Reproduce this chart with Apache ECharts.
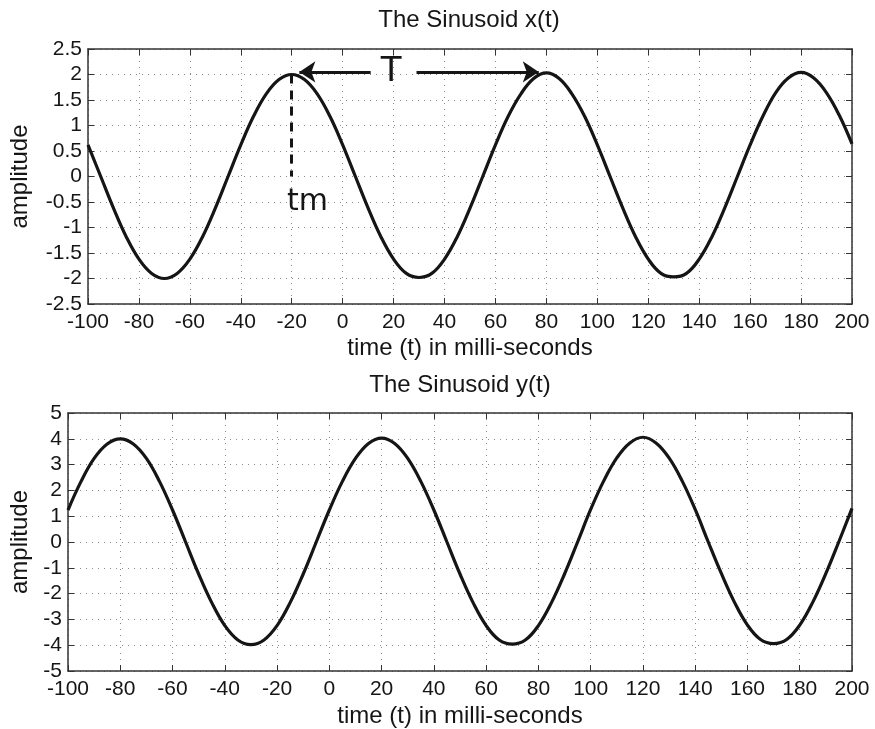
<!DOCTYPE html>
<html>
<head>
<meta charset="UTF-8">
<title>The Sinusoid</title>
<style>
  body { margin: 0; padding: 0; background: #fff; }
  #chart { width: 875px; height: 729px; }
</style>
</head>
<body>
<div id="chart"></div>
<script src="https://cdn.jsdelivr.net/npm/echarts@6/dist/echarts.min.js"></script>
<script>
// time in ms, every 5 ms from -100 to 200
var times = [];
for (var t = -100; t <= 200; t += 5) times.push(t);

// x(t)
var xVals = [
  0.62, 0, -0.62, -1.18, -1.62, -1.9, -2, -1.9, -1.62, -1.18,
  -0.62, 0, 0.62, 1.18, 1.62, 1.9, 2, 1.9, 1.62, 1.18,
  0.62, 0, -0.62, -1.18, -1.62, -1.9, -1.98, -1.9, -1.62, -1.18,
  -0.62, 0, 0.62, 1.18, 1.62, 1.92, 2.03, 1.92, 1.62, 1.18,
  0.62, 0, -0.62, -1.18, -1.62, -1.9, -1.97, -1.9, -1.62, -1.18,
  -0.62, 0, 0.62, 1.18, 1.64, 1.93, 2.04, 1.93, 1.64, 1.2,
  0.64
];

// y(t)
var yVals = [
  1.24, 2.35, 3.24, 3.8, 4, 3.8, 3.24, 2.35, 1.24, 0,
  -1.24, -2.35, -3.24, -3.8, -3.98, -3.8, -3.24, -2.35, -1.24, 0,
  1.24, 2.35, 3.24, 3.82, 4.03, 3.82, 3.24, 2.35, 1.24, 0,
  -1.24, -2.35, -3.24, -3.8, -3.96, -3.8, -3.24, -2.35, -1.24, 0,
  1.26, 2.37, 3.26, 3.84, 4.06, 3.84, 3.26, 2.37, 1.26, 0,
  -1.22, -2.33, -3.22, -3.78, -3.94, -3.78, -3.22, -2.33, -1.22, 0.02,
  1.3
];

// hand drawn marks on the top plot: period arrow and tm marker
var periodLeft = [[-17, 2.05], [11, 2.05]];
var periodRight = [[29, 2.05], [77, 2.05]];
var tmLine = [[-20, 2], [-20, 0]];
var periodLabel = [19, 2.05];
var tmLabel = [-13.8, -0.5];

var font = 'Liberation Sans, Arial, sans-serif';
var ink = '#151515';

function pairs(vals) {
  return times.map(function (t, i) { return [t, vals[i]]; });
}

function mainX(grid, name, gap) {
  return {
    type: 'value', gridIndex: grid, position: 'bottom',
    min: -100, max: 200, interval: 20,
    name: name, nameLocation: 'middle', nameGap: gap,
    nameTextStyle: { fontFamily: font, fontSize: 24, color: ink },
    axisLine: { onZero: false, lineStyle: { color: '#333', width: 1.5 } },
    axisTick: { inside: true, length: 6, lineStyle: { color: '#333' } },
    axisLabel: { fontFamily: font, fontSize: 21, color: ink, margin: 8 },
    splitLine: { show: true, lineStyle: { color: '#8a8a8a', type: [1, 5], width: 1 } }
  };
}
function boxX(grid) {
  return {
    type: 'value', gridIndex: grid, position: 'top',
    min: -100, max: 200, interval: 20,
    axisLine: { onZero: false, lineStyle: { color: '#333', width: 1.5 } },
    axisTick: { inside: true, length: 6, lineStyle: { color: '#333' } },
    axisLabel: { show: false }, splitLine: { show: false }
  };
}
function mainY(grid, min, max, step, gap) {
  return {
    type: 'value', gridIndex: grid, position: 'left',
    min: min, max: max, interval: step,
    name: 'amplitude', nameLocation: 'middle', nameGap: gap,
    nameTextStyle: { fontFamily: font, fontSize: 24, color: ink },
    axisLine: { show: true, onZero: false, lineStyle: { color: '#333', width: 1.5 } },
    axisTick: { show: true, inside: true, length: 6, lineStyle: { color: '#333' } },
    axisLabel: { fontFamily: font, fontSize: 21, color: ink, margin: 6 },
    splitLine: { show: true, lineStyle: { color: '#8a8a8a', type: [1, 5], width: 1 } }
  };
}
function boxY(grid, min, max, step) {
  return {
    type: 'value', gridIndex: grid, position: 'right',
    min: min, max: max, interval: step,
    axisLine: { show: true, onZero: false, lineStyle: { color: '#333', width: 1.5 } },
    axisTick: { show: true, inside: true, length: 6, lineStyle: { color: '#333' } },
    axisLabel: { show: false }, splitLine: { show: false }
  };
}

var handLine = { color: ink, width: 3, type: 'solid' };

var chart = echarts.init(document.getElementById('chart'));
chart.setOption({
  animation: false,
  backgroundColor: '#fff',
  grid: [
    { left: 86, top: 49, width: 766, height: 255 },
    { left: 68, top: 413, width: 784, height: 260 }
  ],
  graphic: [
    { type: 'text', x: 469, y: 20,
      style: { text: 'The Sinusoid x(t)', fontFamily: font, fontSize: 24, fill: ink,
        textAlign: 'center', textVerticalAlign: 'middle' } },
    { type: 'text', x: 460, y: 385,
      style: { text: 'The Sinusoid y(t)', fontFamily: font, fontSize: 24, fill: ink,
        textAlign: 'center', textVerticalAlign: 'middle' } }
  ],
  xAxis: [
    mainX(0, 'time (t) in milli-seconds', 32), boxX(0),
    mainX(1, 'time (t) in milli-seconds', 33), boxX(1)
  ],
  yAxis: [
    mainY(0, -2.5, 2.5, 0.5, 56), boxY(0, -2.5, 2.5, 0.5),
    mainY(1, -5, 5, 1, 36), boxY(1, -5, 5, 1)
  ],
  series: [
    {
      type: 'line', xAxisIndex: 0, yAxisIndex: 0,
      data: pairs(xVals), smooth: 0.4, showSymbol: false, silent: true,
      lineStyle: { color: ink, width: 3.2 },
      markLine: {
        silent: true, symbolSize: 16,
        label: { show: false },
        lineStyle: handLine,
        data: [
          [{ coord: periodLeft[0], symbol: 'arrow' }, { coord: periodLeft[1], symbol: 'none' }],
          [{ coord: periodRight[0], symbol: 'none' }, { coord: periodRight[1], symbol: 'arrow' }],
          [{ coord: tmLine[0], symbol: 'none', lineStyle: { type: [9, 7], width: 3, color: ink } },
           { coord: tmLine[1], symbol: 'none' }]
        ]
      },
      markPoint: {
        silent: true, symbol: 'circle', symbolSize: 1,
        itemStyle: { color: 'rgba(0,0,0,0)' },
        data: [
          { coord: periodLabel, label: { show: true, position: 'inside', formatter: 'T',
            fontFamily: 'DejaVu Sans', fontSize: 34, color: ink } },
          { coord: tmLabel, label: { show: true, position: 'inside', formatter: 'tm',
            fontFamily: 'DejaVu Sans', fontSize: 30, color: ink } }
        ]
      }
    },
    {
      type: 'line', xAxisIndex: 2, yAxisIndex: 2,
      data: pairs(yVals), smooth: 0.4, showSymbol: false, silent: true,
      lineStyle: { color: ink, width: 3.2 }
    }
  ]
});
</script>
</body>
</html>
